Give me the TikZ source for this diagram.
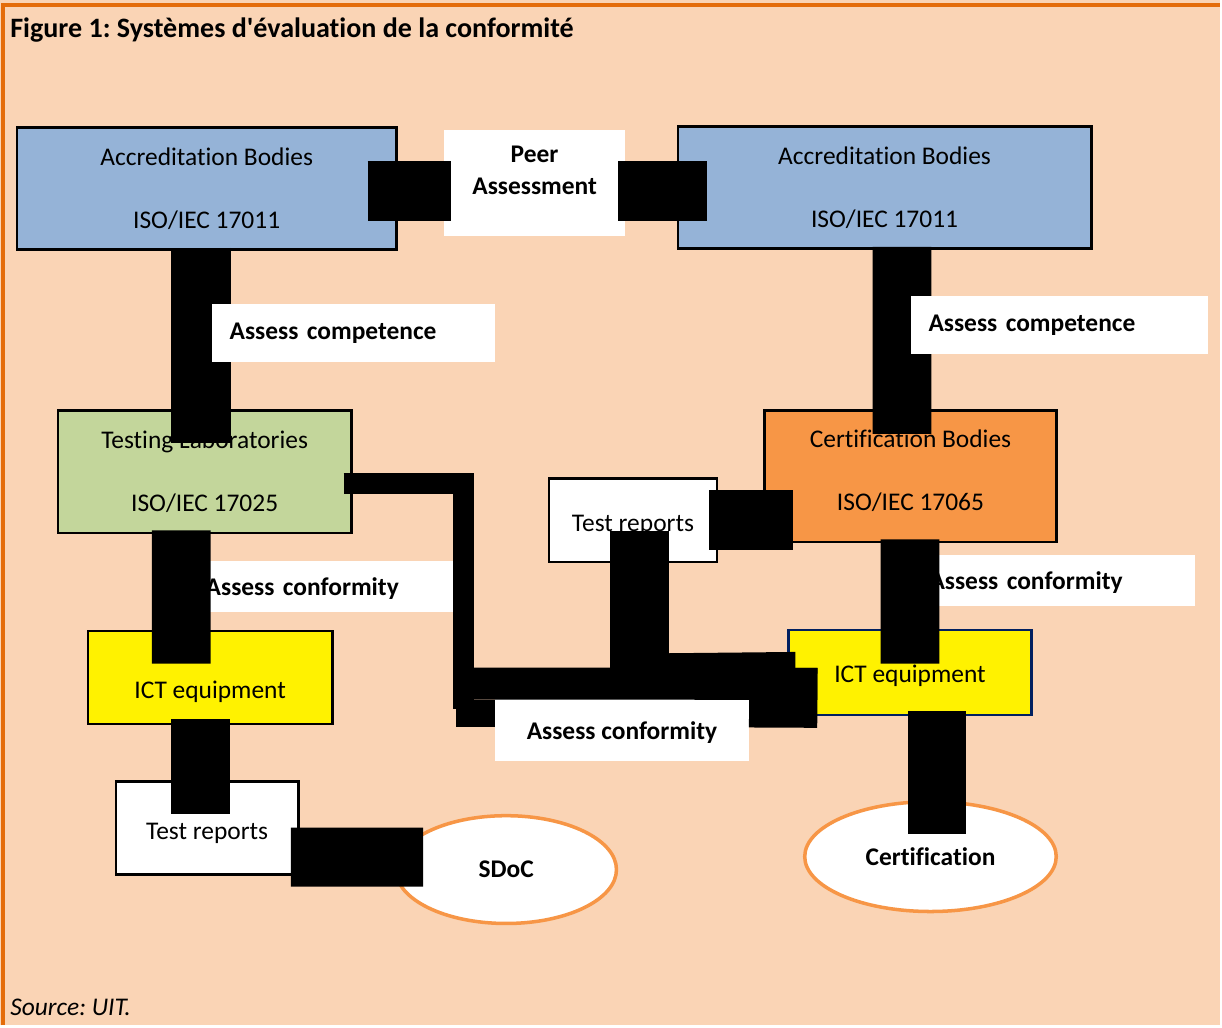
\documentclass[tikz,border=0pt]{standalone}
\usepackage{fontspec}
\setmainfont{Carlito}[Ligatures={TeX,NoCommon}]
\usetikzlibrary{calc}
\usetikzlibrary{shapes.geometric}
\definecolor{peach}{RGB}{250,212,181}
\definecolor{frameorange}{RGB}{228,108,10}
\definecolor{abblue}{RGB}{149,179,215}
\definecolor{labgreen}{RGB}{195,214,155}
\definecolor{cborange}{RGB}{247,150,70}
\definecolor{ictnavy}{RGB}{0,32,96}
\frenchspacing

\begin{document}
\begin{tikzpicture}[
			x=0.02cm, y=-0.02cm,
			every node/.style={font=\fontsize{14.5}{17}\selectfont},
			box/.style={draw, line width=1.5pt, align=center, inner sep=0pt, font=\fontsize{14.5}{35.7}\selectfont},
			lbl/.style={fill=white, inner ysep=0pt, font=\fontsize{14.5}{17}\selectfont\bfseries},
			oval/.style={ellipse, draw=cborange, line width=2pt, fill=white, inner sep=0pt, font=\fontsize{14.5}{17}\selectfont\bfseries},
			bar/.style={draw=black, line width=#1},
			bar/.default=1.2cm
			]
			
			% Background and frame
			\fill[peach] (0,0) rectangle (1222,1027);
			\draw[frameorange, line width=0.08cm] (3,1027) -- (3,5) -- (1222,5);
			
			% Title and source
			\node[anchor=base west, inner sep=0pt, font=\fontsize{16}{19}\selectfont\bfseries] (title) at (10,38) {Figure 1: Systèmes d\textquotesingle évaluation de la conformité};
			\node[anchor=base west, inner sep=0pt, font=\fontsize{14.5}{17}\selectfont\itshape] (source) at (10,1017) {Source: UIT.};
			
			% Accreditation bodies
			\node[box, fill=abblue, minimum width=7.6cm, minimum height=2.44cm] (ab1) at (207,189) {Accreditation Bodies\\ISO/IEC 17011};
			\node[box, fill=abblue, minimum width=8.28cm, minimum height=2.44cm] (ab2) at (886,188) {Accreditation Bodies\\ISO/IEC 17011};
			\node[box, draw=none, fill=white, minimum width=3.62cm, minimum height=2.12cm, text depth=0.5cm, font=\fontsize{14.5}{18.7}\selectfont\bfseries] (peer) at (535.5,183) {Peer\\Assessment};
			
			% Laboratories and certification bodies
			\node[box, fill=labgreen, minimum width=5.88cm, minimum height=2.46cm] (lab) at (205,472.5) {Testing Laboratories\\ISO/IEC 17025};
			\node[box, fill=cborange, minimum width=5.84cm, minimum height=2.64cm, text depth=0.24cm] (cb) at (912,477) {Certification Bodies\\ISO/IEC 17065};
			\node[box, fill=white, minimum width=3.36cm, minimum height=1.68cm, text height=0.52cm] (rep2) at (634,521) {Test reports};
			
			% Conformity labels
			\node[lbl, text width=4.96cm, inner xsep=0.02cm, minimum height=1.02cm, text height=0.44cm, align=left] (conf1) at (330,587.5) {Assess conformity};
			\node[lbl, text width=5.3cm, inner xsep=0.02cm, minimum height=1.02cm, text height=0.44cm, align=left] (conf2) at (1063.5,581.5) {Assess conformity};
			\node[lbl, minimum width=5.08cm, minimum height=1.24cm, text height=0.46cm] (conf3) at (623,731) {Assess conformity};
			
			% ICT equipment
			\node[box, fill=yellow, minimum width=4.9cm, minimum height=1.86cm, text height=0.92cm] (ict1) at (210.5,678.5) {ICT equipment};
			\node[box, draw=ictnavy, fill=yellow, minimum width=4.86cm, minimum height=1.7cm, text height=0.48cm] (ict2) at (911.5,673.5) {ICT equipment};
			
			% Outcomes
			\node[box, fill=white, minimum width=3.66cm, minimum height=1.86cm, text height=0.52cm] (rep1) at (207.5,829.5) {Test reports};
			\node[oval, minimum width=4.42cm, minimum height=2.16cm] (sdoc) at (507,871) {SDoC};
			\node[oval, minimum width=5.04cm, minimum height=2.2cm] (cert) at (932,858) {Certification};
			
			% Black connectors
			\draw[bar] ($(ab1.east)+(-30,2)$) -- ($(peer.west)+(8,8)$);
			\draw[bar] ($(peer.east)+(-8,8)$) -- ($(ab2.west)+(30,3)$);
			\draw[bar] ($(ab1.south)+(-6,-3)$) -- ($(lab.north)+(-4,34)$);
			\draw[bar=1.18cm] ($(ab2.south)+(17.5,-3)$) -- ($(cb.north)+(-8.5,25)$);
			\draw[bar=1.18cm] ($(lab.south)+(-23.5,-4)$) -- ($(ict1.north)+(-29,34)$);
			\draw[bar=1.18cm] ($(ict1.south)+(-10,-6)$) -- ($(rep1.north)+(-7,34)$);
			\draw[bar=1.18cm] ($(rep1.east)+(-9,29)$) -- ($(sdoc.west)+(29,-12.5)$);
			\draw[bar] ($(rep2.east)+(-9,0)$) -- ($(cb.west)+(30,44)$);
			\draw[bar=1.18cm] ($(cb.south)+(-0.5,-4)$) -- ($(ict2.north)+(0,35)$);
			\draw[bar=1.18cm] ($(ict2.south)+(27,-5)$) -- ($(cert.north)+(6.5,34)$);
			\draw[bar=0.42cm, line join=miter] ($(lab.east)+(-9,11.5)$) -| ($(conf3.west)+(-31,-21)$);
			\draw[bar=0.64cm] ($(conf3.north west)+(-41,-15)$) -- ($(ict2.west)+(30,11.5)$);
			\draw[bar=0.56cm] ($(conf3.north west)+(-39,15)$) -- ($(conf3.north west)+(0,15)$);
			\draw[bar] ($(conf3.north east)+(0,-1)$) -- ($(ict2.west)+(30,25.5)$);
			\draw[bar=0.32cm] ($(rep2.south)+(36,98)$) -- ($(ict2.west)+(8,-12.5)$);
			\draw[bar=1.18cm] ($(rep2.south)+(6.5,-32)$) -- ($(conf3.north)+(17.5,-31)$);
			
			% Competence labels
			\node[lbl, text width=4.96cm, inner xsep=0.36cm, minimum height=1.18cm, align=left] (comp1) at (354,333.5) {Assess competence};
			\node[lbl, text width=5.24cm, inner xsep=0.36cm, minimum height=1.18cm, align=left] (comp2) at (1061,325.5) {Assess competence};
			
		\end{tikzpicture}
\end{document}
